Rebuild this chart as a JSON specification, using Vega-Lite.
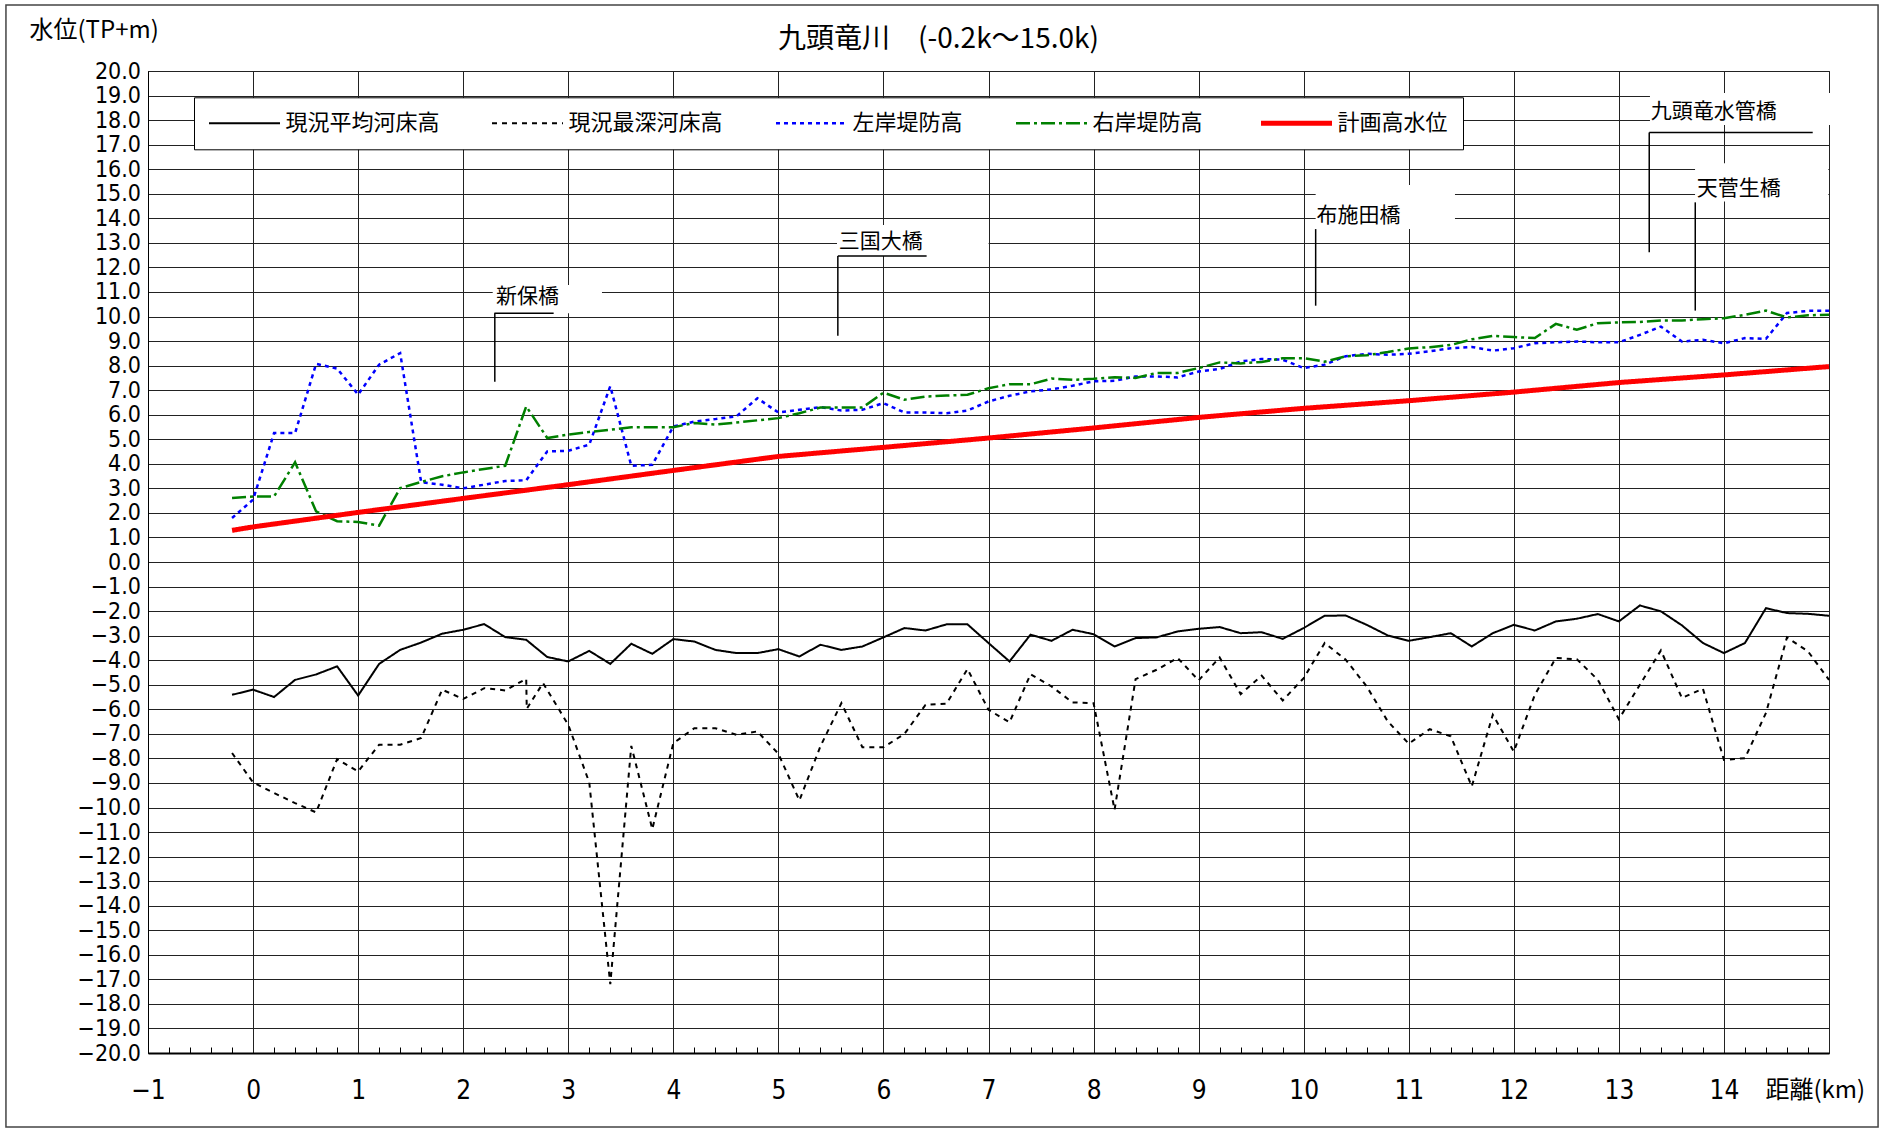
{
"$schema": "https://vega.github.io/schema/vega-lite/v6.json",
"width": 1681,
"height": 982,
"autosize": {"type": "none"},
"padding": {"left": 148, "top": 71, "right": 54, "bottom": 77},
"background": "white",
"title": {"text": "九頭竜川　(-0.2k～15.0k)", "anchor": "middle", "dx": -50, "dy": 50, "offset": 0, "fontSize": 28, "fontWeight": "normal", "font": "Noto Sans CJK JP", "color": "#000"},
"datasets": {
"frame": [{"x": -2.352, "x2": 15.467, "y": 22.69, "y2": -23.01}],
"boxes": [
{"name": "新保橋", "x": 2.281, "x2": 3.321, "y": 11.28, "y2": 10.13},
{"name": "三国大橋", "x": 5.558, "x2": 7.001, "y": 13.73, "y2": 12.46},
{"name": "布施田橋", "x": 10.114, "x2": 11.44, "y": 15.36, "y2": 13.56},
{"name": "九頭竜水管橋", "x": 13.296, "x2": 15.105, "y": 19.1, "y2": 17.8},
{"name": "天菅生橋", "x": 13.725, "x2": 14.994, "y": 16.24, "y2": 14.68}
],
"labels": [
{"name": "新保橋", "x": 2.312, "y": 10.81},
{"name": "三国大橋", "x": 5.575, "y": 13.05},
{"name": "布施田橋", "x": 10.123, "y": 14.1},
{"name": "九頭竜水管橋", "x": 13.303, "y": 18.34},
{"name": "天菅生橋", "x": 13.741, "y": 15.2}
],
"leaders": [
{"x": 2.297, "x2": 2.861, "y": 10.13, "y2": 10.13},
{"x": 2.301, "x2": 2.301, "y": 10.13, "y2": 7.34},
{"x": 5.566, "x2": 6.411, "y": 12.46, "y2": 12.46},
{"x": 5.566, "x2": 5.566, "y": 12.46, "y2": 9.22},
{"x": 10.114, "x2": 10.114, "y": 13.56, "y2": 10.44},
{"x": 13.289, "x2": 14.845, "y": 17.5, "y2": 17.5},
{"x": 13.289, "x2": 13.289, "y": 17.5, "y2": 12.62},
{"x": 13.727, "x2": 13.727, "y": 14.65, "y2": 10.24}
],
"profile": [
{"series":"現況平均河床高","km":-0.2,"value":-5.41},{"series":"現況平均河床高","km":0,"value":-5.2},{"series":"現況平均河床高","km":0.2,"value":-5.5},{"series":"現況平均河床高","km":0.4,"value":-4.8},{"series":"現況平均河床高","km":0.6,"value":-4.58},{"series":"現況平均河床高","km":0.8,"value":-4.25},{"series":"現況平均河床高","km":1,"value":-5.44},{"series":"現況平均河床高","km":1.2,"value":-4.15},{"series":"現況平均河床高","km":1.4,"value":-3.58},{"series":"現況平均河床高","km":1.6,"value":-3.28},{"series":"現況平均河床高","km":1.8,"value":-2.92},{"series":"現況平均河床高","km":2,"value":-2.76},{"series":"現況平均河床高","km":2.2,"value":-2.53},{"series":"現況平均河床高","km":2.4,"value":-3.06},{"series":"現況平均河床高","km":2.6,"value":-3.17},{"series":"現況平均河床高","km":2.8,"value":-3.87},{"series":"現況平均河床高","km":3,"value":-4.05},{"series":"現況平均河床高","km":3.2,"value":-3.62},{"series":"現況平均河床高","km":3.4,"value":-4.15},{"series":"現況平均河床高","km":3.6,"value":-3.33},{"series":"現況平均河床高","km":3.8,"value":-3.74},{"series":"現況平均河床高","km":4,"value":-3.14},{"series":"現況平均河床高","km":4.2,"value":-3.24},{"series":"現況平均河床高","km":4.4,"value":-3.58},{"series":"現況平均河床高","km":4.6,"value":-3.71},{"series":"現況平均河床高","km":4.8,"value":-3.71},{"series":"現況平均河床高","km":5,"value":-3.55},{"series":"現況平均河床高","km":5.2,"value":-3.85},{"series":"現況平均河床高","km":5.4,"value":-3.37},{"series":"現況平均河床高","km":5.6,"value":-3.58},{"series":"現況平均河床高","km":5.8,"value":-3.44},{"series":"現況平均河床高","km":6,"value":-3.07},{"series":"現況平均河床高","km":6.2,"value":-2.69},{"series":"現況平均河床高","km":6.4,"value":-2.79},{"series":"現況平均河床高","km":6.6,"value":-2.54},{"series":"現況平均河床高","km":6.8,"value":-2.54},{"series":"現況平均河床高","km":7,"value":-3.3},{"series":"現況平均河床高","km":7.2,"value":-4.05},{"series":"現況平均河床高","km":7.4,"value":-2.96},{"series":"現況平均河床高","km":7.6,"value":-3.21},{"series":"現況平均河床高","km":7.8,"value":-2.76},{"series":"現況平均河床高","km":8,"value":-2.94},{"series":"現況平均河床高","km":8.2,"value":-3.44},{"series":"現況平均河床高","km":8.4,"value":-3.1},{"series":"現況平均河床高","km":8.6,"value":-3.07},{"series":"現況平均河床高","km":8.8,"value":-2.83},{"series":"現況平均河床高","km":9,"value":-2.72},{"series":"現況平均河床高","km":9.2,"value":-2.65},{"series":"現況平均河床高","km":9.4,"value":-2.9},{"series":"現況平均河床高","km":9.6,"value":-2.86},{"series":"現況平均河床高","km":9.8,"value":-3.13},{"series":"現況平均河床高","km":10,"value":-2.69},{"series":"現況平均河床高","km":10.2,"value":-2.19},{"series":"現況平均河床高","km":10.4,"value":-2.18},{"series":"現況平均河床高","km":10.6,"value":-2.56},{"series":"現況平均河床高","km":10.8,"value":-2.99},{"series":"現況平均河床高","km":11,"value":-3.21},{"series":"現況平均河床高","km":11.2,"value":-3.06},{"series":"現況平均河床高","km":11.4,"value":-2.9},{"series":"現況平均河床高","km":11.6,"value":-3.44},{"series":"現況平均河床高","km":11.8,"value":-2.9},{"series":"現況平均河床高","km":12,"value":-2.56},{"series":"現況平均河床高","km":12.2,"value":-2.79},{"series":"現況平均河床高","km":12.4,"value":-2.42},{"series":"現況平均河床高","km":12.6,"value":-2.31},{"series":"現況平均河床高","km":12.8,"value":-2.12},{"series":"現況平均河床高","km":13,"value":-2.42},{"series":"現況平均河床高","km":13.2,"value":-1.77},{"series":"現況平均河床高","km":13.4,"value":-2.01},{"series":"現況平均河床高","km":13.6,"value":-2.58},{"series":"現況平均河床高","km":13.8,"value":-3.3},{"series":"現況平均河床高","km":14,"value":-3.71},{"series":"現況平均河床高","km":14.2,"value":-3.3},{"series":"現況平均河床高","km":14.4,"value":-1.88},{"series":"現況平均河床高","km":14.6,"value":-2.08},{"series":"現況平均河床高","km":14.8,"value":-2.11},{"series":"現況平均河床高","km":15,"value":-2.19},
{"series":"現況最深河床高","km":-0.2,"value":-7.78},{"series":"現況最深河床高","km":0,"value":-8.98},{"series":"現況最深河床高","km":0.2,"value":-9.41},{"series":"現況最深河床高","km":0.4,"value":-9.82},{"series":"現況最深河床高","km":0.6,"value":-10.2},{"series":"現況最深河床高","km":0.8,"value":-8.03},{"series":"現況最深河床高","km":1,"value":-8.53},{"series":"現況最深河床高","km":1.2,"value":-7.44},{"series":"現況最深河床高","km":1.4,"value":-7.44},{"series":"現況最深河床高","km":1.6,"value":-7.17},{"series":"現況最深河床高","km":1.8,"value":-5.2},{"series":"現況最深河床高","km":2,"value":-5.58},{"series":"現況最深河床高","km":2.2,"value":-5.14},{"series":"現況最深河床高","km":2.4,"value":-5.23},{"series":"現況最深河床高","km":2.6,"value":-4.76},{"series":"現況最深河床高","km":2.605,"value":-5.98},{"series":"現況最深河床高","km":2.76,"value":-4.93},{"series":"現況最深河床高","km":3,"value":-6.63},{"series":"現況最深河床高","km":3.2,"value":-8.98},{"series":"現況最深河床高","km":3.4,"value":-17.2},{"series":"現況最深河床高","km":3.6,"value":-7.49},{"series":"現況最深河床高","km":3.8,"value":-10.88},{"series":"現況最深河床高","km":4,"value":-7.38},{"series":"現況最深河床高","km":4.2,"value":-6.77},{"series":"現況最深河床高","km":4.4,"value":-6.77},{"series":"現況最深河床高","km":4.6,"value":-7.04},{"series":"現況最深河床高","km":4.8,"value":-6.9},{"series":"現況最深河床高","km":5,"value":-7.81},{"series":"現況最深河床高","km":5.2,"value":-9.71},{"series":"現況最深河床高","km":5.4,"value":-7.51},{"series":"現況最深河床高","km":5.6,"value":-5.75},{"series":"現況最深河床高","km":5.8,"value":-7.55},{"series":"現況最深河床高","km":6,"value":-7.55},{"series":"現況最深河床高","km":6.2,"value":-7.0},{"series":"現況最深河床高","km":6.4,"value":-5.82},{"series":"現況最深河床高","km":6.6,"value":-5.77},{"series":"現況最深河床高","km":6.8,"value":-4.36},{"series":"現況最深河床高","km":7,"value":-6.02},{"series":"現況最深河床高","km":7.2,"value":-6.53},{"series":"現況最深河床高","km":7.4,"value":-4.57},{"series":"現況最深河床高","km":7.6,"value":-5.07},{"series":"現況最深河床高","km":7.8,"value":-5.72},{"series":"現況最深河床高","km":8,"value":-5.75},{"series":"現況最深河床高","km":8.2,"value":-10.09},{"series":"現況最深河床高","km":8.4,"value":-4.77},{"series":"現況最深河床高","km":8.6,"value":-4.39},{"series":"現況最深河床高","km":8.8,"value":-3.91},{"series":"現況最深河床高","km":9,"value":-4.82},{"series":"現況最深河床高","km":9.2,"value":-3.89},{"series":"現況最深河床高","km":9.4,"value":-5.38},{"series":"現況最深河床高","km":9.6,"value":-4.63},{"series":"現況最深河床高","km":9.8,"value":-5.64},{"series":"現況最深河床高","km":10,"value":-4.73},{"series":"現況最深河床高","km":10.2,"value":-3.3},{"series":"現況最深河床高","km":10.4,"value":-3.98},{"series":"現況最深河床高","km":10.6,"value":-5.07},{"series":"現況最深河床高","km":10.8,"value":-6.49},{"series":"現況最深河床高","km":11,"value":-7.4},{"series":"現況最深河床高","km":11.2,"value":-6.81},{"series":"現況最深河床高","km":11.4,"value":-7.1},{"series":"現況最深河床高","km":11.6,"value":-9.14},{"series":"現況最深河床高","km":11.8,"value":-6.22},{"series":"現況最深河床高","km":12,"value":-7.72},{"series":"現況最深河床高","km":12.2,"value":-5.41},{"series":"現況最深河床高","km":12.4,"value":-3.91},{"series":"現況最深河床高","km":12.6,"value":-3.96},{"series":"現況最深河床高","km":12.8,"value":-4.8},{"series":"現況最深河床高","km":13,"value":-6.4},{"series":"現況最深河床高","km":13.2,"value":-5.0},{"series":"現況最深河床高","km":13.4,"value":-3.6},{"series":"現況最深河床高","km":13.6,"value":-5.54},{"series":"現況最深河床高","km":13.8,"value":-5.16},{"series":"現況最深河床高","km":14,"value":-8.06},{"series":"現況最深河床高","km":14.2,"value":-7.99},{"series":"現況最深河床高","km":14.4,"value":-6.15},{"series":"現況最深河床高","km":14.6,"value":-3.07},{"series":"現況最深河床高","km":14.8,"value":-3.64},{"series":"現況最深河床高","km":15,"value":-4.8},
{"series":"左岸堤防高","km":-0.2,"value":1.79},{"series":"左岸堤防高","km":0,"value":2.54},{"series":"左岸堤防高","km":0.2,"value":5.25},{"series":"左岸堤防高","km":0.4,"value":5.25},{"series":"左岸堤防高","km":0.6,"value":8.07},{"series":"左岸堤防高","km":0.8,"value":7.88},{"series":"左岸堤防高","km":1,"value":6.82},{"series":"左岸堤防高","km":1.2,"value":8.04},{"series":"左岸堤防高","km":1.4,"value":8.51},{"series":"左岸堤防高","km":1.6,"value":3.25},{"series":"左岸堤防高","km":1.8,"value":3.15},{"series":"左岸堤防高","km":2,"value":3.0},{"series":"左岸堤防高","km":2.2,"value":3.15},{"series":"左岸堤防高","km":2.4,"value":3.3},{"series":"左岸堤防高","km":2.6,"value":3.33},{"series":"左岸堤防高","km":2.8,"value":4.5},{"series":"左岸堤防高","km":3,"value":4.53},{"series":"左岸堤防高","km":3.2,"value":4.78},{"series":"左岸堤防高","km":3.4,"value":7.16},{"series":"左岸堤防高","km":3.6,"value":3.92},{"series":"左岸堤防高","km":3.8,"value":3.96},{"series":"左岸堤防高","km":4,"value":5.52},{"series":"左岸堤防高","km":4.2,"value":5.72},{"series":"左岸堤防高","km":4.4,"value":5.82},{"series":"左岸堤防高","km":4.6,"value":5.93},{"series":"左岸堤防高","km":4.8,"value":6.67},{"series":"左岸堤防高","km":5,"value":6.09},{"series":"左岸堤防高","km":5.2,"value":6.2},{"series":"左岸堤防高","km":5.4,"value":6.31},{"series":"左岸堤防高","km":5.6,"value":6.17},{"series":"左岸堤防高","km":5.8,"value":6.2},{"series":"左岸堤防高","km":6,"value":6.47},{"series":"左岸堤防高","km":6.2,"value":6.09},{"series":"左岸堤防高","km":6.4,"value":6.09},{"series":"左岸堤防高","km":6.6,"value":6.06},{"series":"左岸堤防高","km":6.8,"value":6.17},{"series":"左岸堤防高","km":7,"value":6.54},{"series":"左岸堤防高","km":7.2,"value":6.77},{"series":"左岸堤防高","km":7.4,"value":6.95},{"series":"左岸堤防高","km":7.6,"value":7.03},{"series":"左岸堤防高","km":7.8,"value":7.18},{"series":"左岸堤防高","km":8,"value":7.36},{"series":"左岸堤防高","km":8.2,"value":7.38},{"series":"左岸堤防高","km":8.4,"value":7.56},{"series":"左岸堤防高","km":8.6,"value":7.56},{"series":"左岸堤防高","km":8.8,"value":7.52},{"series":"左岸堤防高","km":9,"value":7.76},{"series":"左岸堤防高","km":9.2,"value":7.86},{"series":"左岸堤防高","km":9.4,"value":8.17},{"series":"左岸堤防高","km":9.6,"value":8.27},{"series":"左岸堤防高","km":9.8,"value":8.24},{"series":"左岸堤防高","km":10,"value":7.9},{"series":"左岸堤防高","km":10.2,"value":8.04},{"series":"左岸堤防高","km":10.4,"value":8.38},{"series":"左岸堤防高","km":10.6,"value":8.48},{"series":"左岸堤防高","km":10.8,"value":8.44},{"series":"左岸堤防高","km":11,"value":8.48},{"series":"左岸堤防高","km":11.2,"value":8.58},{"series":"左岸堤防高","km":11.4,"value":8.71},{"series":"左岸堤防高","km":11.6,"value":8.76},{"series":"左岸堤防高","km":11.8,"value":8.61},{"series":"左岸堤防高","km":12,"value":8.71},{"series":"左岸堤防高","km":12.2,"value":8.91},{"series":"左岸堤防高","km":12.4,"value":8.95},{"series":"左岸堤防高","km":12.6,"value":8.98},{"series":"左岸堤防高","km":12.8,"value":8.95},{"series":"左岸堤防高","km":13,"value":8.95},{"series":"左岸堤防高","km":13.2,"value":9.25},{"series":"左岸堤防高","km":13.4,"value":9.59},{"series":"左岸堤防高","km":13.6,"value":8.98},{"series":"左岸堤防高","km":13.8,"value":9.05},{"series":"左岸堤防高","km":14,"value":8.91},{"series":"左岸堤防高","km":14.2,"value":9.12},{"series":"左岸堤防高","km":14.4,"value":9.09},{"series":"左岸堤防高","km":14.6,"value":10.14},{"series":"左岸堤防高","km":14.8,"value":10.23},{"series":"左岸堤防高","km":15,"value":10.23},
{"series":"右岸堤防高","km":-0.2,"value":2.61},{"series":"右岸堤防高","km":0,"value":2.67},{"series":"右岸堤防高","km":0.2,"value":2.67},{"series":"右岸堤防高","km":0.4,"value":4.06},{"series":"右岸堤防高","km":0.6,"value":2.06},{"series":"右岸堤防高","km":0.8,"value":1.66},{"series":"右岸堤防高","km":1,"value":1.63},{"series":"右岸堤防高","km":1.2,"value":1.48},{"series":"右岸堤防高","km":1.4,"value":3.01},{"series":"右岸堤防高","km":1.6,"value":3.26},{"series":"右岸堤防高","km":1.8,"value":3.49},{"series":"右岸堤防高","km":2,"value":3.65},{"series":"右岸堤防高","km":2.2,"value":3.79},{"series":"右岸堤防高","km":2.4,"value":3.92},{"series":"右岸堤防高","km":2.6,"value":6.34},{"series":"右岸堤防高","km":2.8,"value":5.05},{"series":"右岸堤防高","km":3,"value":5.19},{"series":"右岸堤防高","km":3.2,"value":5.3},{"series":"右岸堤防高","km":3.4,"value":5.39},{"series":"右岸堤防高","km":3.6,"value":5.49},{"series":"右岸堤防高","km":3.8,"value":5.49},{"series":"右岸堤防高","km":4,"value":5.49},{"series":"右岸堤防高","km":4.2,"value":5.66},{"series":"右岸堤防高","km":4.4,"value":5.6},{"series":"右岸堤防高","km":4.6,"value":5.68},{"series":"右岸堤防高","km":4.8,"value":5.77},{"series":"右岸堤防高","km":5,"value":5.86},{"series":"右岸堤防高","km":5.2,"value":6.06},{"series":"右岸堤防高","km":5.4,"value":6.29},{"series":"右岸堤防高","km":5.6,"value":6.29},{"series":"右岸堤防高","km":5.8,"value":6.29},{"series":"右岸堤防高","km":6,"value":6.9},{"series":"右岸堤防高","km":6.2,"value":6.61},{"series":"右岸堤防高","km":6.4,"value":6.74},{"series":"右岸堤防高","km":6.6,"value":6.78},{"series":"右岸堤防高","km":6.8,"value":6.81},{"series":"右岸堤防高","km":7,"value":7.08},{"series":"右岸堤防高","km":7.2,"value":7.24},{"series":"右岸堤防高","km":7.4,"value":7.24},{"series":"右岸堤防高","km":7.6,"value":7.47},{"series":"右岸堤防高","km":7.8,"value":7.42},{"series":"右岸堤防高","km":8,"value":7.46},{"series":"右岸堤防高","km":8.2,"value":7.53},{"series":"右岸堤防高","km":8.4,"value":7.5},{"series":"右岸堤防高","km":8.6,"value":7.7},{"series":"右岸堤防高","km":8.8,"value":7.7},{"series":"右岸堤防高","km":9,"value":7.9},{"series":"右岸堤防高","km":9.2,"value":8.13},{"series":"右岸堤防高","km":9.4,"value":8.09},{"series":"右岸堤防高","km":9.6,"value":8.15},{"series":"右岸堤防高","km":9.8,"value":8.3},{"series":"右岸堤防高","km":10,"value":8.3},{"series":"右岸堤防高","km":10.2,"value":8.16},{"series":"右岸堤防高","km":10.4,"value":8.38},{"series":"右岸堤防高","km":10.6,"value":8.42},{"series":"右岸堤防高","km":10.8,"value":8.55},{"series":"右岸堤防高","km":11,"value":8.7},{"series":"右岸堤防高","km":11.2,"value":8.75},{"series":"右岸堤防高","km":11.4,"value":8.84},{"series":"右岸堤防高","km":11.6,"value":9.07},{"series":"右岸堤防高","km":11.8,"value":9.21},{"series":"右岸堤防高","km":12,"value":9.16},{"series":"右岸堤防高","km":12.2,"value":9.12},{"series":"右岸堤防高","km":12.4,"value":9.7},{"series":"右岸堤防高","km":12.6,"value":9.46},{"series":"右岸堤防高","km":12.8,"value":9.73},{"series":"右岸堤防高","km":13,"value":9.76},{"series":"右岸堤防高","km":13.2,"value":9.78},{"series":"右岸堤防高","km":13.4,"value":9.84},{"series":"右岸堤防高","km":13.6,"value":9.84},{"series":"右岸堤防高","km":13.8,"value":9.89},{"series":"右岸堤防高","km":14,"value":9.93},{"series":"右岸堤防高","km":14.2,"value":10.07},{"series":"右岸堤防高","km":14.4,"value":10.24},{"series":"右岸堤防高","km":14.6,"value":9.96},{"series":"右岸堤防高","km":14.8,"value":10.05},{"series":"右岸堤防高","km":15,"value":10.07},
{"series":"計画高水位","km":-0.2,"value":1.29},{"series":"計画高水位","km":0,"value":1.43},{"series":"計画高水位","km":1,"value":2.02},{"series":"計画高水位","km":2,"value":2.59},{"series":"計画高水位","km":3,"value":3.15},{"series":"計画高水位","km":4,"value":3.73},{"series":"計画高水位","km":5,"value":4.3},{"series":"計画高水位","km":6,"value":4.67},{"series":"計画高水位","km":7,"value":5.05},{"series":"計画高水位","km":8,"value":5.46},{"series":"計画高水位","km":9,"value":5.89},{"series":"計画高水位","km":10,"value":6.26},{"series":"計画高水位","km":11,"value":6.57},{"series":"計画高水位","km":12,"value":6.92},{"series":"計画高水位","km":13,"value":7.31},{"series":"計画高水位","km":14,"value":7.62},{"series":"計画高水位","km":15,"value":7.96}
]
},
"layer": [
{
"data": {"name": "frame"},
"mark": {"type": "rect", "filled": false, "color": "#444", "strokeWidth": 1.5},
"encoding": {
"x": {"field": "x", "type": "quantitative", "scale": {"domain": [-1, 15], "nice": false, "zero": false}, "axis": null},
"x2": {"field": "x2"},
"y": {"field": "y", "type": "quantitative", "scale": {"domain": [-20, 20], "nice": false, "zero": false},
"axis": {"orient": "left", "values": [-20,-19,-18,-17,-16,-15,-14,-13,-12,-11,-10,-9,-8,-7,-6,-5,-4,-3,-2,-1,0,1,2,3,4,5,6,7,8,9,10,11,12,13,14,15,16,17,18,19,20], "format": ".1f", "grid": true, "gridColor": "#222", "gridWidth": 1, "ticks": false, "tickSize": 0, "domainColor": "#000", "domainWidth": 1, "labelFont": "Liberation Sans Narrow, DejaVu Sans Condensed, sans-serif", "labelFontSize": 23, "labelColor": "#000", "labelPadding": 7.5, "labelOverlap": false, "labelFlush": false, "title": "水位(TP+m)", "titleX": -119, "titleY": -41, "titleAlign": "left", "titleBaseline": "middle", "titleAngle": 0, "titleFont": "Noto Sans CJK JP", "titleFontSize": 24, "titleFontWeight": "normal", "titleColor": "#000"}},
"y2": {"field": "y2"}
}
},
{
"data": {"name": "profile"},
"mark": {"type": "line"},
"encoding": {
"x": {"field": "km", "type": "quantitative", "scale": {"domain": [-1, 15], "nice": false, "zero": false},
"axis": {"orient": "bottom", "values": [-1,0,1,2,3,4,5,6,7,8,9,10,11,12,13,14,15], "format": "d", "labelExpr": "datum.value === 15 ? '' : datum.label", "grid": true, "gridColor": "#222", "gridWidth": 1, "ticks": false, "tickSize": 0, "domainColor": "#000", "domainWidth": 2, "labelFont": "Liberation Sans Narrow, DejaVu Sans Condensed, sans-serif", "labelFontSize": 26, "labelColor": "#000", "labelPadding": 37, "labelBaseline": "middle", "labelOverlap": false, "labelFlush": false, "title": "距離(km)", "titleX": 1617, "titleY": 37, "titleAlign": "left", "titleBaseline": "middle", "titleAngle": 0, "titleFont": "Noto Sans CJK JP", "titleFontSize": 24, "titleFontWeight": "normal", "titleColor": "#000"}},
"y": {"field": "value", "type": "quantitative", "scale": {"domain": [-20, 20], "nice": false, "zero": false}, "axis": null},
"color": {"field": "series", "type": "nominal",
"scale": {"domain": ["現況平均河床高", "現況最深河床高", "左岸堤防高", "右岸堤防高", "計画高水位"], "range": ["#000000", "#000000", "#0000ff", "#008000", "#ff0000"]},
"legend": {"orient": "none", "legendX": 46, "legendY": 26.3, "direction": "horizontal", "columns": 5, "title": null, "fillColor": "white", "strokeColor": "#000", "padding": 15, "columnPadding": 48, "labelFontSize": 22, "labelFont": "Noto Sans CJK JP", "labelColor": "#000", "labelLimit": 400, "symbolType": "M-7.1,0H7.1", "symbolSize": 100, "symbolOffset": 24.5, "labelOffset": 30}},
"strokeDash": {"field": "series", "type": "nominal",
"scale": {"domain": ["現況平均河床高", "現況最深河床高", "左岸堤防高", "右岸堤防高", "計画高水位"], "range": [[1, 0], [5, 5], [4, 4], [14, 4, 3, 4], [1, 0]]}},
"strokeWidth": {"field": "series", "type": "nominal",
"scale": {"type": "ordinal", "domain": ["現況平均河床高", "現況最深河床高", "左岸堤防高", "右岸堤防高", "計画高水位"], "range": [2, 2, 2.5, 2.5, 5]}}
}
},
{
"data": {"name": "boxes"},
"mark": {"type": "rect", "fill": "white", "strokeWidth": 0},
"encoding": {
"x": {"field": "x", "type": "quantitative", "scale": {"domain": [-1, 15], "nice": false, "zero": false},
"axis": {"orient": "bottom", "values": [-0.8,-0.6,-0.4,-0.2,0.2,0.4,0.6,0.8,1.2,1.4,1.6,1.8,2.2,2.4,2.6,2.8,3.2,3.4,3.6,3.8,4.2,4.4,4.6,4.8,5.2,5.4,5.6,5.8,6.2,6.4,6.6,6.8,7.2,7.4,7.6,7.8,8.2,8.4,8.6,8.8,9.2,9.4,9.6,9.8,10.2,10.4,10.6,10.8,11.2,11.4,11.6,11.8,12.2,12.4,12.6,12.8,13.2,13.4,13.6,13.8,14.2,14.4,14.6,14.8], "labels": false, "grid": false, "domain": false, "ticks": true, "tickSize": -6, "tickColor": "#000", "tickWidth": 1, "title": null}},
"x2": {"field": "x2"},
"y": {"field": "y", "type": "quantitative", "scale": {"domain": [-20, 20], "nice": false, "zero": false}, "axis": null},
"y2": {"field": "y2"}
}
},
{
"data": {"name": "leaders"},
"mark": {"type": "rule", "color": "#000", "strokeWidth": 1.5},
"encoding": {
"x": {"field": "x", "type": "quantitative", "scale": {"domain": [-1, 15], "nice": false, "zero": false}, "axis": null},
"x2": {"field": "x2"},
"y": {"field": "y", "type": "quantitative", "scale": {"domain": [-20, 20], "nice": false, "zero": false}, "axis": null},
"y2": {"field": "y2"}
}
},
{
"data": {"name": "labels"},
"mark": {"type": "text", "align": "left", "baseline": "middle", "font": "Noto Sans CJK JP", "fontSize": 21, "color": "#000"},
"encoding": {
"x": {"field": "x", "type": "quantitative", "scale": {"domain": [-1, 15], "nice": false, "zero": false}, "axis": null},
"y": {"field": "y", "type": "quantitative", "scale": {"domain": [-20, 20], "nice": false, "zero": false}, "axis": null},
"text": {"field": "name", "type": "nominal"}
}
}
],
"resolve": {"axis": {"x": "independent", "y": "independent"}},
"config": {
"view": {"stroke": "#222", "strokeWidth": 1},
"font": "Noto Sans CJK JP"
}
}
